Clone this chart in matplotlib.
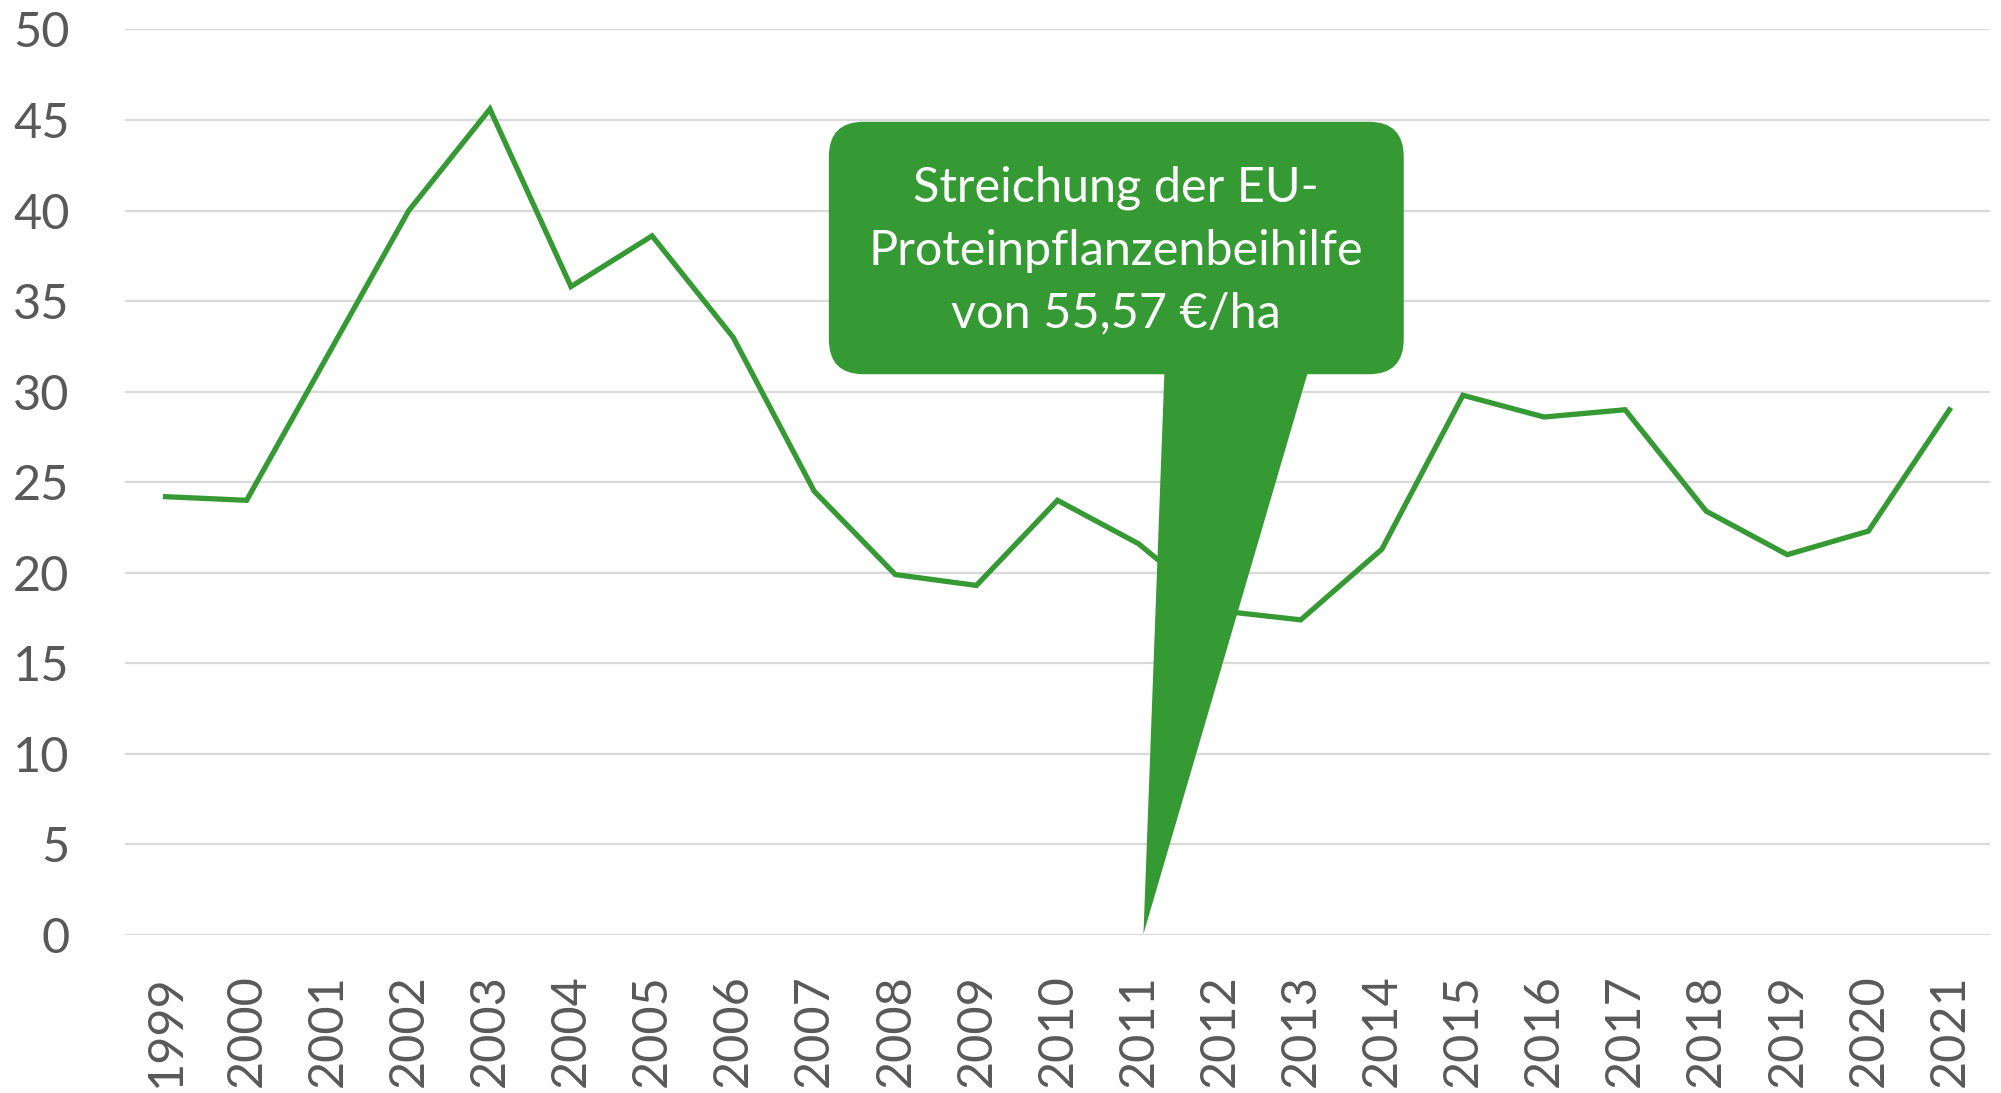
import matplotlib
matplotlib.use("Agg")
import matplotlib.pyplot as plt
from matplotlib.patches import FancyBboxPatch, Polygon

years = ["1999", "2000", "2001", "2002", "2003", "2004", "2005", "2006", "2007", "2008",
         "2009", "2010", "2011", "2012", "2013", "2014", "2015", "2016", "2017", "2018",
         "2019", "2020", "2021"]
values = [24.2, 24.0, 32.0, 40.0, 45.6, 35.8, 38.6, 33.0, 24.5, 19.9,
          19.3, 24.0, 21.6, 17.9, 17.4, 21.3, 29.8, 28.6, 29.0, 23.4,
          21.0, 22.3, 29.0]
yticks = [0, 5, 10, 15, 20, 25, 30, 35, 40, 45, 50]
callout_text = "Streichung der EU-\nProteinpflanzenbeihilfe\nvon 55,57 €/ha"

GREEN = "#369A34"
GRID = "#D9D9D9"
TXT = "#595959"
FONT = ["Lato", "DejaVu Sans"]

fig = plt.figure(figsize=(20.01, 10.93), dpi=100)
ax = fig.add_axes([125 / 2001, (1093 - 935) / 1093, (1990 - 125) / 2001, (935 - 29.4) / 1093])

x = list(range(len(years)))
ax.plot(x, values, color=GREEN, lw=3.8, solid_joinstyle="miter", zorder=3)

ax.set_xlim(-0.5, len(years) - 0.5)
ax.set_ylim(0, 50)
ax.set_yticks(yticks)
ax.set_xticks(x)
ax.set_xticklabels(years, rotation=90, fontsize=35, color=TXT, family=FONT)
ax.set_yticklabels([str(v) for v in yticks], fontsize=35, color=TXT, family=FONT)
ax.tick_params(axis="y", length=0, pad=40)
ax.tick_params(axis="x", length=0, pad=28)
for s in ax.spines.values():
    s.set_visible(False)
ax.grid(axis="y", color=GRID, lw=1.6, zorder=0)
ax.set_axisbelow(True)

# callout (rounded box + pointer to 2011)
bx0, bx1, by0, by1 = 8.18, 15.27, 30.96, 44.9
box = FancyBboxPatch((bx0, by0), bx1 - bx0, by1 - by0,
                     boxstyle="round,pad=0,rounding_size=0.43",
                     mutation_aspect=4.49, facecolor=GREEN, edgecolor="none", zorder=5)
ax.add_patch(box)
ptr = Polygon([(12.32, by0 + 0.3), (12.06, 0.05), (14.10, by0 + 0.3)], closed=True,
              facecolor=GREEN, edgecolor="none", zorder=5)
ax.add_patch(ptr)
ax.text((bx0 + bx1) / 2, (by0 + by1) / 2 - 0.15, callout_text, ha="center", va="center",
        fontsize=35, color="white", family=FONT, linespacing=1.52, zorder=6)

fig.savefig("out.png", dpi=100)
